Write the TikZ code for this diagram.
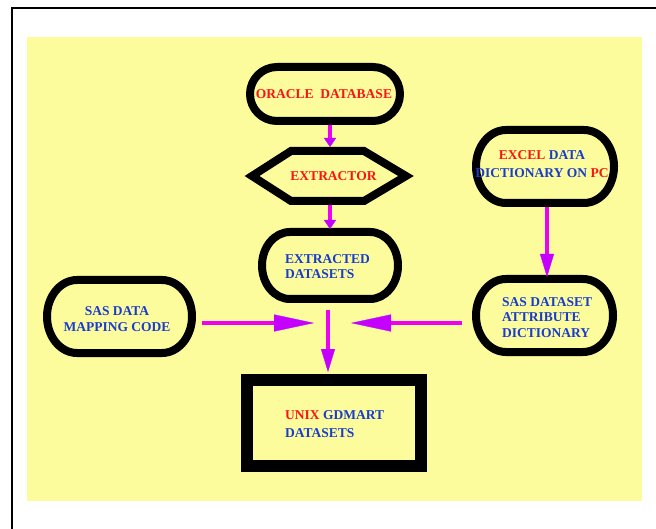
\documentclass[tikz,border=0pt]{standalone}
\usepackage{fontspec}
\setmainfont{Liberation Serif}
\usetikzlibrary{arrows.meta}
\definecolor{bgyellow}{RGB}{252,252,156}
\definecolor{txtred}{RGB}{250,20,20}
\definecolor{txtblue}{RGB}{25,60,205}
\definecolor{flowline}{RGB}{238,0,240}
\definecolor{flowhead}{RGB}{196,0,255}
\newcommand\stadiumpath[5]{%
  \draw[border] ({#1-#3/2+#5},{#2-#4/2}) -- ({#1+#3/2-#5},{#2-#4/2})
    arc[start angle=-90,end angle=90,x radius=#5,y radius={#4/2}]
    -- ({#1-#3/2+#5},{#2+#4/2})
    arc[start angle=90,end angle=270,x radius=#5,y radius={#4/2}] -- cycle;}
\tikzset{
  border/.style={draw=black, line width=8pt, line join=round},
  shapebox/.style={inner sep=0pt, outer sep=0pt, draw=none},
  lbl/.style={font=\fontsize{13.5}{15.5}\selectfont\bfseries, inner sep=0pt, text=txtblue},
  flow/.style={draw=flowline, line width=3.5pt},
  smallhead/.style={-{Triangle[length=9pt,width=12pt,line width=0.3pt,color=flowhead]}},
  midhead/.style={-{Triangle[length=23pt,width=14pt,line width=0.3pt,color=flowhead]}},
  bighead/.style={-{Triangle[length=40pt,width=17pt,line width=0.3pt,color=flowhead]}},
}
\begin{document}
\begin{tikzpicture}[x=1pt,y=-1pt]
\useasboundingbox (0,0) rectangle (656,529);
\fill[white] (0,0) rectangle (656,529);
% outer frame
\draw[line width=2.5pt] (12,529) -- (12,8) -- (656,8);
% yellow background
\fill[bgyellow] (27,37) rectangle (642,501);

% shapes (named nodes = outer extents)
\node[shapebox, minimum width=158pt, minimum height=62pt] (oracle) at (325,94) {};
\stadiumpath{325}{94}{150}{54}{27}
\node[shapebox, minimum width=168pt, minimum height=58pt] (extractor) at (329,176) {};
\draw[border, line join=miter] (252,176) -- (291,151) -- (364,151) -- (406,176) -- (364,201) -- (291,201) -- cycle;
\node[shapebox, minimum width=144pt, minimum height=75pt] (extracted) at (330,265.5) {};
\stadiumpath{330}{265.5}{136}{67}{28}
\node[shapebox, minimum width=153pt, minimum height=81pt] (sasmap) at (119.5,316.5) {};
\stadiumpath{119.5}{316.5}{145}{73}{30}
\node[shapebox, minimum width=146pt, minimum height=81pt] (excel) at (545,166.5) {};
\stadiumpath{545}{166.5}{138}{73}{30}
\node[shapebox, minimum width=145pt, minimum height=81pt] (sasds) at (544.5,315.5) {};
\stadiumpath{544.5}{315.5}{137}{73}{30}
\node[shapebox, minimum width=187pt, minimum height=98pt] (unix) at (333.5,423) {};
\draw[black, line width=12pt] (246.5,380) rectangle (420.5,466);

% texts
\node[lbl, text=txtred] (t-oracle) at (324,94) {ORACLE\ \ DATABASE};
\node[lbl, text=txtred] (t-extractor) at (333.5,176.5) {EXTRACTOR};
\node[lbl, anchor=west, align=left, font=\fontsize{13.5}{15}\selectfont\bfseries] (t-extracted) at (285,267) {EXTRACTED\\DATASETS};
\node[lbl, align=center] (t-sasmap) at (117,319) {SAS DATA\\MAPPING CODE};
\node[lbl, align=center, font=\fontsize{13.5}{18}\selectfont\bfseries] (t-excel) at (542,164) {\textcolor{txtred}{EXCEL} DATA\\DICTIONARY ON \textcolor{txtred}{PC}};
\node[lbl, anchor=west, align=left] (t-sasds) at (502,317.5) {SAS DATASET\\ATTRIBUTE\\DICTIONARY};
\node[lbl, anchor=west, align=left, font=\fontsize{13.5}{18}\selectfont\bfseries] (t-unix) at (285,424) {\textcolor{txtred}{UNIX} GDMART\\DATASETS};

% free ends of the merging arrows
\coordinate (mL) at (314,323);
\coordinate (mR) at (351,323);

% connectors
\draw[flow, smallhead] ([xshift=5pt]oracle.south) -- ([xshift=1pt]extractor.north);
\draw[flow, smallhead] ([xshift=1pt]extractor.south) -- ([yshift=-1pt]extracted.north);
\draw[flow, midhead] ([xshift=2pt]excel.south) -- ([xshift=2.5pt,yshift=-2pt]sasds.north);
\draw[flow, bighead, shorten <=6pt] (sasmap.east |- mL) -- (mL);
\draw[flow, bighead, shorten <=10pt] (sasds.west |- mR) -- (mR);
\draw[flow, midhead, shorten <=7pt, shorten >=2pt] ([xshift=-2pt]extracted.south) -- ([xshift=-5.5pt]unix.north);
\end{tikzpicture}
\end{document}
